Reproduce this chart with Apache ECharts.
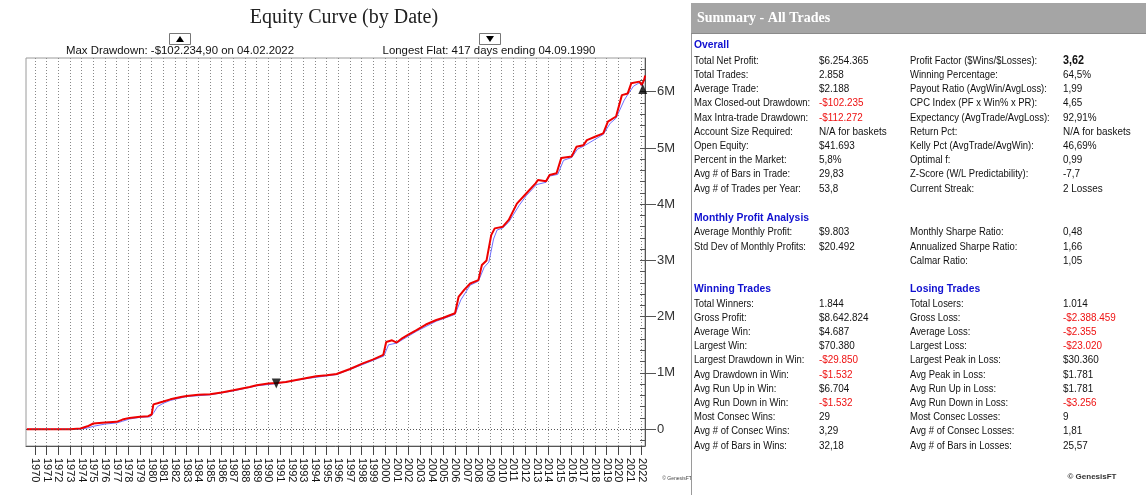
<!DOCTYPE html>
<html><head><meta charset="utf-8">
<script src="https://cdn.jsdelivr.net/npm/echarts@6/dist/echarts.min.js"></script>
<style>html,body{margin:0;padding:0;background:#fff;overflow:hidden}#c{width:1146px;height:495px}</style>
</head><body><div id="c"></div>
<script>
// ---------- chart data ----------
const years = [1970,1971,1972,1973,1974,1975,1976,1977,1978,1979,1980,1981,1982,1983,1984,1985,1986,1987,1988,1989,1990,1991,1992,1993,1994,1995,1996,1997,1998,1999,2000,2001,2002,2003,2004,2005,2006,2007,2008,2009,2010,2011,2012,2013,2014,2015,2016,2017,2018,2019,2020,2021,2022];
const yMajorTicks = [0,1,2,3,4,5,6];
const yMajorLabels = ['0','1M','2M','3M','4M','5M','6M'];
const yMinorTicks = [-0.2,0,0.2,0.4,0.6,0.8,1,1.2,1.4,1.6,1.8,2,2.2,2.4,2.6,2.8,3,3.2,3.4,3.6,3.8,4,4.2,4.4,4.6,4.8,5,5.2,5.4,5.6,5.8,6,6.2,6.4];

// equity (red), in years / millions
const equityDates = [1969.3,1973.0,1973.9,1974.5,1975.0,1975.5,1976.0,1977.0,1977.5,1978.1,1979.0,1979.7,1980.0,1980.15,1980.5,1981.0,1981.6,1982.5,1983.0,1984.0,1985.0,1986.0,1987.0,1988.4,1989.0,1990.0,1990.7,1991.5,1992.5,1993.3,1994.1,1995.0,1995.85,1997.0,1998.1,1999.0,1999.85,2000.1,2000.6,2001.0,2001.5,2002.0,2002.7,2003.5,2004.4,2005.0,2005.6,2006.0,2006.3,2006.8,2007.3,2008.0,2008.3,2008.7,2009.1,2009.4,2010.1,2010.6,2011.3,2012.1,2012.9,2013.1,2013.8,2014.1,2014.7,2015.1,2016.0,2016.4,2017.0,2017.3,2018.0,2018.7,2019.1,2019.8,2020.3,2020.8,2021.1,2021.8,2022.0,2022.1,2022.2,2022.3];
const equityValues = [0,0,0.01,0.05,0.1,0.11,0.12,0.13,0.17,0.2,0.22,0.23,0.26,0.44,0.46,0.49,0.53,0.57,0.59,0.61,0.62,0.65,0.69,0.75,0.78,0.81,0.82,0.84,0.88,0.91,0.94,0.96,0.98,1.07,1.17,1.24,1.32,1.55,1.58,1.54,1.62,1.68,1.76,1.86,1.94,1.98,2.03,2.06,2.35,2.48,2.59,2.65,2.92,3.0,3.45,3.57,3.6,3.72,4.01,4.19,4.37,4.43,4.41,4.52,4.55,4.82,4.85,5.02,5.05,5.14,5.2,5.26,5.47,5.56,5.94,5.97,6.15,6.18,6.12,6.14,6.21,6.29];

// closed-trade equity (blue)
const closedDates = [1969.3,1973.9,1974.5,1975.0,1976.0,1977.0,1977.5,1978.1,1979.0,1979.9,1980.2,1980.5,1981.0,1981.6,1983.0,1985.0,1987.0,1989.0,1990.7,1993.3,1995.85,1998.1,1999.9,2000.3,2001.0,2002.7,2004.4,2006.0,2006.5,2007.3,2008.0,2008.5,2008.9,2009.3,2009.6,2010.1,2010.6,2011.5,2012.1,2013.0,2013.8,2014.1,2014.8,2015.3,2016.0,2016.5,2017.0,2018.7,2019.3,2019.8,2020.5,2020.8,2021.3,2021.8,2022.0,2022.3];
const closedValues = [0,0,0.02,0.05,0.09,0.11,0.14,0.18,0.21,0.22,0.3,0.4,0.46,0.51,0.58,0.61,0.68,0.77,0.81,0.9,0.97,1.15,1.3,1.5,1.53,1.74,1.92,2.04,2.3,2.56,2.63,2.88,2.97,3.38,3.54,3.58,3.68,3.98,4.15,4.35,4.39,4.5,4.53,4.78,4.83,4.98,5.03,5.24,5.44,5.53,5.85,5.95,6.1,6.16,6.1,6.25];

const maxDrawdownPoint = [2022.09, 6.05];
const longestFlatPoint = [1990.68, 0.81];

const titleText = 'Equity Curve (by Date)';
const drawdownText = 'Max Drawdown: -$102.234,90 on 04.02.2022';
const flatText = 'Longest Flat: 417 days ending 04.09.1990';

// ---------- summary table ----------
const summaryTitle = 'Summary - All Trades';
const overallHeader = 'Overall';
const overallLabels1 = ['Total Net Profit:','Total Trades:','Average Trade:','Max Closed-out Drawdown:','Max Intra-trade Drawdown:','Account Size Required:','Open Equity:','Percent in the Market:','Avg # of Bars in Trade:','Avg # of Trades per Year:'];
const overallValues1 = ['$6.254.365','2.858','$2.188','-$102.235','-$112.272','N/A for baskets','$41.693','5,8%','29,83','53,8'];
const overallLabels2 = ['Profit Factor ($Wins/$Losses):','Winning Percentage:','Payout Ratio (AvgWin/AvgLoss):','CPC Index (PF x Win% x PR):','Expectancy (AvgTrade/AvgLoss):','Return Pct:','Kelly Pct (AvgTrade/AvgWin):','Optimal f:','Z-Score (W/L Predictability):','Current Streak:'];
const overallValues2 = ['3,62','64,5%','1,99','4,65','92,91%','N/A for baskets','46,69%','0,99','-7,7','2 Losses'];
const monthlyHeader = 'Monthly Profit Analysis';
const monthlyLabels1 = ['Average Monthly Profit:','Std Dev of Monthly Profits:'];
const monthlyValues1 = ['$9.803','$20.492'];
const monthlyLabels2 = ['Monthly Sharpe Ratio:','Annualized Sharpe Ratio:','Calmar Ratio:'];
const monthlyValues2 = ['0,48','1,66','1,05'];
const winHeader = 'Winning Trades';
const winLabels = ['Total Winners:','Gross Profit:','Average Win:','Largest Win:','Largest Drawdown in Win:','Avg Drawdown in Win:','Avg Run Up in Win:','Avg Run Down in Win:','Most Consec Wins:','Avg # of Consec Wins:','Avg # of Bars in Wins:'];
const winValues = ['1.844','$8.642.824','$4.687','$70.380','-$29.850','-$1.532','$6.704','-$1.532','29','3,29','32,18'];
const lossHeader = 'Losing Trades';
const lossLabels = ['Total Losers:','Gross Loss:','Average Loss:','Largest Loss:','Largest Peak in Loss:','Avg Peak in Loss:','Avg Run Up in Loss:','Avg Run Down in Loss:','Most Consec Losses:','Avg # of Consec Losses:','Avg # of Bars in Losses:'];
const lossValues = ['1.014','-$2.388.459','-$2.355','-$23.020','$30.360','$1.781','$1.781','-$3.256','9','1,81','25,57'];
const copyrightText = '\u00a9 GenesisFT';

// ---------- build ----------
const chart = echarts.init(document.getElementById('c'), null, {renderer: 'canvas'});
const pair = (xs, ys) => xs.map((x, i) => [x, ys[i]]);

const SANS = '"Liberation Sans", Arial, sans-serif';
const graphics = [];
function txt(x, y, text, opts, sx) {
  graphics.push({type: 'text', x: x, y: y, scaleX: sx || 1, silent: true, style: Object.assign({
    text: text, fill: '#111', font: '11px ' + SANS, verticalAlign: 'middle', align: 'left'
  }, opts || {})});
}
// chart titles
txt(344, 18, titleText, {font: '20px "Liberation Serif", "Times New Roman", serif', align: 'center', fill: '#222'});
txt(180, 51, drawdownText, {font: '11.4px ' + SANS, align: 'center', fill: '#111'});
txt(489, 51, flatText, {font: '11.4px ' + SANS, align: 'center', fill: '#111'});
// marker boxes
graphics.push({type: 'rect', shape: {x: 169.5, y: 33.5, width: 21, height: 11}, style: {fill: '#fff', stroke: '#777', lineWidth: 1}, silent: true});
graphics.push({type: 'polygon', shape: {points: [[176, 42], [184, 42], [180, 36]]}, style: {fill: '#000'}, silent: true});
graphics.push({type: 'rect', shape: {x: 479.5, y: 33.5, width: 21, height: 11}, style: {fill: '#fff', stroke: '#777', lineWidth: 1}, silent: true});
graphics.push({type: 'polygon', shape: {points: [[486, 36], [494, 36], [490, 42]]}, style: {fill: '#000'}, silent: true});
txt(677, 479, copyrightText, {font: '5px ' + SANS, fill: '#444', align: 'center'});

// summary panel
graphics.push({type: 'rect', shape: {x: 691, y: 3, width: 455, height: 31}, style: {fill: '#a5a5a5'}, silent: true});
graphics.push({type: 'line', shape: {x1: 691, y1: 33.5, x2: 1146, y2: 33.5}, style: {stroke: '#8a8a8a', lineWidth: 1}, silent: true});
graphics.push({type: 'line', shape: {x1: 691.5, y1: 34, x2: 691.5, y2: 495}, style: {stroke: '#9a9a9a', lineWidth: 1}, silent: true});
txt(697, 18, summaryTitle, {font: 'bold 14px "Liberation Serif", "Times New Roman", serif', fill: '#fff'});

const C1 = 694, C2 = 819, C3 = 910, C4 = 1063, ROW = 14.2;
const LABEL_SX = 0.86, VALUE_SX = 0.9;
const HEAD = {font: 'bold 11.5px ' + SANS, fill: '#1010d0'};
function valueStyle(label, value) {
  const s = {};
  if (value.indexOf('-$') === 0) s.fill = '#ee1111';
  if (label === overallLabels2[0]) s.font = 'bold 12px ' + SANS;
  return s;
}
function block(labels, values, lx, vx, y0) {
  labels.forEach((l, i) => {
    txt(lx, y0 + i * ROW, l, null, LABEL_SX);
    txt(vx, y0 + i * ROW, values[i], valueStyle(l, values[i]), VALUE_SX);
  });
}
txt(C1, 45, overallHeader, HEAD, 0.9);
block(overallLabels1, overallValues1, C1, C2, 60.7);
block(overallLabels2, overallValues2, C3, C4, 60.7);
txt(C1, 217.5, monthlyHeader, HEAD, 0.9);
block(monthlyLabels1, monthlyValues1, C1, C2, 232.3);
block(monthlyLabels2, monthlyValues2, C3, C4, 232.3);
txt(C1, 289.3, winHeader, HEAD, 0.9);
txt(C3, 289.3, lossHeader, HEAD, 0.9);
block(winLabels, winValues, C1, C2, 303.5);
block(lossLabels, lossValues, C3, C4, 303.5);
txt(1092, 477, copyrightText, {font: 'bold 8px ' + SANS, fill: '#333', align: 'center'});

const option = {
  backgroundColor: '#fff',
  animation: false,
  grid: {left: 26, right: 501, top: 58, bottom: 49, show: true, borderColor: '#9a9a9a', borderWidth: 1},
  xAxis: {
    type: 'value', min: 1969.23, max: 2022.28,
    axisLine: {show: true, onZero: false, lineStyle: {color: '#555'}},
    axisTick: {show: true, customValues: years, length: 9, lineStyle: {color: '#444'}},
    axisLabel: {show: true, customValues: years, rotate: -90, fontSize: 11, color: '#111', margin: 12,
      fontFamily: SANS, formatter: v => String(Math.round(v))},
    splitLine: {show: true, lineStyle: {color: '#888', type: [1, 2], width: 1}}
  },
  yAxis: [{
    type: 'value', position: 'right', min: -0.3, max: 6.6,
    axisLine: {show: true, onZero: false, lineStyle: {color: '#555'}},
    axisTick: {show: true, customValues: yMajorTicks, length: 11, inside: false, lineStyle: {color: '#555'}},
    axisLabel: {show: true, customValues: yMajorTicks, margin: 12, fontSize: 13, color: '#333',
      fontFamily: SANS,
      formatter: v => yMajorLabels[yMajorTicks.indexOf(Math.round(v))] || ''},
    splitLine: {show: false}
  }, {
    type: 'value', position: 'right', min: -0.3, max: 6.6,
    axisLine: {show: false},
    axisTick: {show: true, customValues: yMinorTicks, length: 5, inside: true, lineStyle: {color: '#555'}},
    axisLabel: {show: false},
    splitLine: {show: false}
  }],
  series: [{
    type: 'line', name: 'Closed Equity', data: pair(closedDates, closedValues), showSymbol: false,
    lineStyle: {color: '#6f6fff', width: 1}, z: 2,
    markLine: {silent: true, symbol: 'none', label: {show: false},
      lineStyle: {color: '#555', type: [1, 2], width: 1}, data: [{yAxis: 0}]}
  }, {
    type: 'line', name: 'Equity', data: pair(equityDates, equityValues), showSymbol: false,
    lineStyle: {color: '#ee0000', width: 2}, z: 3
  }, {
    type: 'scatter', data: [maxDrawdownPoint], symbol: 'triangle', symbolSize: [9, 10],
    itemStyle: {color: '#000'}, z: 5
  }, {
    type: 'scatter', data: [longestFlatPoint], symbol: 'triangle', symbolRotate: 180, symbolSize: [9, 10],
    itemStyle: {color: '#000'}, z: 5
  }],
  graphic: graphics
};
chart.setOption(option);
</script>
</body></html>
